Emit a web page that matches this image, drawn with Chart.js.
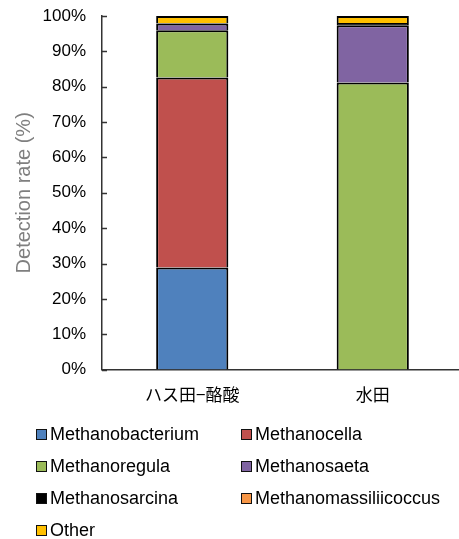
<!DOCTYPE html>
<html>
<head>
<meta charset="utf-8">
<script src="https://cdn.jsdelivr.net/npm/chart.js@4.4.0/dist/chart.umd.min.js"></script>
<style>
    html, body { margin: 0; padding: 0; overflow: hidden; background: #fff; }
    #wrap { position: relative; width: 459px; height: 539px; }
    #myChart { position: absolute; left: 0; top: 0; }
    #legend {
        position: absolute; left: 36px; top: 418px;
        display: grid; grid-template-columns: 205px 220px; grid-auto-rows: 32px;
        font-family: "Liberation Sans", Arial, sans-serif; font-size: 18px; color: #000;
    }
    .item { display: flex; align-items: center; white-space: nowrap; }
    .box { width: 9px; height: 9px; border: 1px solid #111; margin-right: 3px; }
</style>
</head>
<body>
<div id="wrap">
    <canvas id="myChart" width="464" height="420"></canvas>
    <div id="legend"></div>
</div>
<script>
// categories and series (percent of detections)
let categories = ['ハス田−酪酸', '水田'];
let seriesNames = ['Methanobacterium', 'Methanocella', 'Methanoregula', 'Methanosaeta',
    'Methanosarcina', 'Methanomassiliicoccus', 'Other'];
let methanobacterium = [28.9, 0];
let methanocella = [53.7, 0];
let methanoregula = [13.4, 81.2];
let methanosaeta = [1.9, 16.2];
let methanosarcina = [0.1, 0.6];
let methanomassiliicoccus = [0, 0];
let other = [2.0, 2.0];
let yTicks = [0, 10, 20, 30, 40, 50, 60, 70, 80, 90, 100];

let seriesColors = ['#4F81BD', '#C0504D', '#9BBB59', '#8064A2', '#000000', '#F79646', '#FFC000'];
let seriesData = [methanobacterium, methanocella, methanoregula, methanosaeta,
    methanosarcina, methanomassiliicoccus, other];

// small tick marks pointing into the plot, Excel style
const innerTicks = {
    id: 'innerTicks',
    afterDraw(chart) {
        const c = chart.ctx;
        const y = chart.scales.y;
        c.save();
        c.strokeStyle = '#333';
        c.lineWidth = 1.5;
        yTicks.forEach(v => {
            const py = Math.round(y.getPixelForValue(v)) + 0.5;
            c.beginPath();
            c.moveTo(y.right, py);
            c.lineTo(y.right + 5, py);
            c.stroke();
        });
        c.restore();
    }
};

let ctx = document.getElementById('myChart').getContext('2d');
let myChart = new Chart(ctx, {
    type: 'bar',
    data: {
        labels: categories,
        datasets: seriesNames.map((name, i) => ({
            label: name,
            data: seriesData[i],
            backgroundColor: seriesColors[i],
            borderColor: '#000',
            borderWidth: 2,
            categoryPercentage: 1,
            barPercentage: 0.4
        }))
    },
    options: {
        responsive: false,
        animation: false,
        layout: { padding: { top: 16, right: 1, left: 0, bottom: 0 } },
        plugins: {
            legend: { display: false },
            tooltip: { enabled: false }
        },
        scales: {
            x: {
                stacked: true,
                grid: { display: false, drawTicks: false },
                border: { display: true, color: '#333', width: 1.5 },
                ticks: {
                    padding: 15,
                    color: '#000',
                    font: { family: '"Noto Sans CJK JP", sans-serif', size: 17 }
                }
            },
            y: {
                stacked: true,
                min: 0,
                max: 100,
                afterFit: scale => {
                    scale.width = 102;
                    scale.paddingTop = 0;
                    scale.paddingBottom = 0;
                },
                afterBuildTicks: scale => { scale.ticks = yTicks.map(v => ({ value: v })); },
                grid: { display: false, drawTicks: false },
                border: { display: true, color: '#333', width: 1.5 },
                title: {
                    display: true,
                    text: 'Detection rate (%)',
                    color: '#7F7F7F',
                    padding: { top: 12, bottom: 0 },
                    font: { family: '"Liberation Sans", Arial, sans-serif', size: 20, weight: 'normal' }
                },
                ticks: {
                    padding: 16,
                    color: '#000',
                    font: { family: '"Liberation Sans", Arial, sans-serif', size: 17 },
                    callback: v => v + '%'
                }
            }
        }
    },
    plugins: [innerTicks]
});

// two column legend built from the chart datasets
let legendDiv = document.getElementById('legend');
myChart.data.datasets.forEach(ds => {
    let item = document.createElement('div');
    item.className = 'item';
    let box = document.createElement('span');
    box.className = 'box';
    box.style.background = ds.backgroundColor;
    item.appendChild(box);
    item.appendChild(document.createTextNode(ds.label));
    legendDiv.appendChild(item);
});
</script>
</body>
</html>
